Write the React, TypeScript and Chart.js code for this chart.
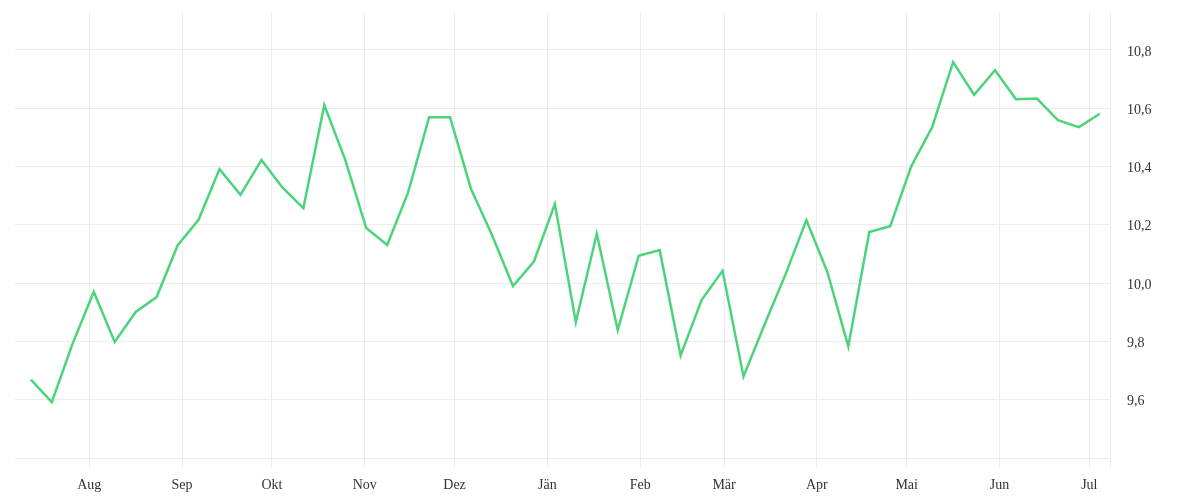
import React, { useEffect, useRef } from 'react';
import { Chart, registerables } from 'chart.js';

Chart.register(...registerables);

// weekly samples (noon UTC)
const weekDates = [
  '2022-07-12', '2022-07-19', '2022-07-26', '2022-08-02', '2022-08-09', '2022-08-16',
  '2022-08-23', '2022-08-30', '2022-09-06', '2022-09-13', '2022-09-20', '2022-09-27',
  '2022-10-04', '2022-10-11', '2022-10-18', '2022-10-25', '2022-11-01', '2022-11-08',
  '2022-11-15', '2022-11-22', '2022-11-29', '2022-12-06', '2022-12-13', '2022-12-20',
  '2022-12-27', '2023-01-03', '2023-01-10', '2023-01-17', '2023-01-24', '2023-01-31',
  '2023-02-07', '2023-02-14', '2023-02-21', '2023-02-28', '2023-03-07', '2023-03-14',
  '2023-03-21', '2023-03-28', '2023-04-04', '2023-04-11', '2023-04-18', '2023-04-25',
  '2023-05-02', '2023-05-09', '2023-05-16', '2023-05-23', '2023-05-30', '2023-06-06',
  '2023-06-13', '2023-06-20', '2023-06-27', '2023-07-04',
];

const weekValues = [
  9.669, 9.592, 9.794, 9.970, 9.798, 9.901, 9.952, 10.129, 10.217, 10.391, 10.303, 10.422,
  10.328, 10.257, 10.611, 10.423, 10.189, 10.131, 10.311, 10.569, 10.569, 10.323, 10.165, 9.990,
  10.074, 10.271, 9.866, 10.169, 9.839, 10.094, 10.113, 9.752, 9.942, 10.042, 9.680, 9.857,
  10.029, 10.216, 10.038, 9.783, 10.175, 10.195, 10.400, 10.535, 10.758, 10.646, 10.730, 10.631,
  10.633, 10.559, 10.535, 10.581,
];

const monthStarts = [
  '2022-08-01', '2022-09-01', '2022-10-01', '2022-11-01', '2022-12-01', '2023-01-01',
  '2023-02-01', '2023-03-01', '2023-04-01', '2023-05-01', '2023-06-01', '2023-07-01',
];
const monthLabels = ['Aug', 'Sep', 'Okt', 'Nov', 'Dez', 'Jän', 'Feb', 'Mär', 'Apr', 'Mai', 'Jun', 'Jul'];

const yTicks = [9.6, 9.8, 10.0, 10.2, 10.4, 10.6, 10.8];

const X_MIN = -24.8;
const X_MAX = 340.9;

const origin = Date.UTC(2022, 7, 1);
const toDay = (d: string, hour = 0) => {
  const [y, m, day] = d.split('-').map(Number);
  return (Date.UTC(y, m - 1, day, hour) - origin) / 86400000;
};

const GRID = '#ececec';
const FONT = { family: "'Liberation Serif', serif", size: 14 };

const App: React.FC = () => {
  const canvasRef = useRef<HTMLCanvasElement>(null);

  useEffect(() => {
    if (!canvasRef.current) return;
    const monthDays = monthStarts.map((d) => toDay(d));

    const chart = new Chart(canvasRef.current, {
      type: 'line',
      data: {
        datasets: [{
          data: weekDates.map((d, i) => ({ x: toDay(d, 12), y: weekValues[i] })),
          borderColor: '#4cd47c',
          borderWidth: 2.5,
          pointRadius: 0,
          tension: 0,
          fill: false,
        }],
      },
      options: {
        animation: false,
        responsive: true,
        maintainAspectRatio: false,
        layout: { padding: { left: 15, top: 12, right: 0, bottom: 0 } },
        plugins: { legend: { display: false }, tooltip: { enabled: false } },
        scales: {
          x: {
            type: 'linear',
            min: X_MIN,
            max: X_MAX,
            afterBuildTicks: (scale) => {
              // month starts plus the right edge (gridline only)
              scale.ticks = [...monthDays, X_MAX].map((v) => ({ value: v }));
            },
            afterFit: (scale) => {
              scale.height = 42;
              scale.paddingLeft = 0;
              scale.paddingRight = 0;
            },
            ticks: {
              autoSkip: false,
              maxRotation: 0,
              padding: 9,
              color: '#333',
              font: FONT,
              callback: (v) => {
                const i = monthDays.indexOf(Number(v));
                return i >= 0 ? monthLabels[i] : '';
              },
            },
            grid: { color: GRID, tickLength: 10, drawTicks: true },
            border: { display: true, color: GRID },
          },
          y: {
            position: 'right',
            min: 9.4,
            max: 10.93,
            afterBuildTicks: (scale) => {
              scale.ticks = yTicks.map((v) => ({ value: v }));
            },
            afterFit: (scale) => {
              scale.width = 90;
              scale.paddingTop = 0;
              scale.paddingBottom = 0;
            },
            ticks: {
              padding: 17,
              labelOffset: 2,
              color: '#333',
              font: FONT,
              callback: (v) => Number(v).toFixed(1).replace('.', ','),
            },
            grid: { color: GRID, drawTicks: false },
            border: { display: true, color: GRID },
          },
        },
      },
    });

    return () => chart.destroy();
  }, []);

  return (
    <div style={{ position: 'absolute', left: 0, top: 0, width: 1200, height: 500 }}>
      <canvas ref={canvasRef} />
    </div>
  );
};

export default App;
